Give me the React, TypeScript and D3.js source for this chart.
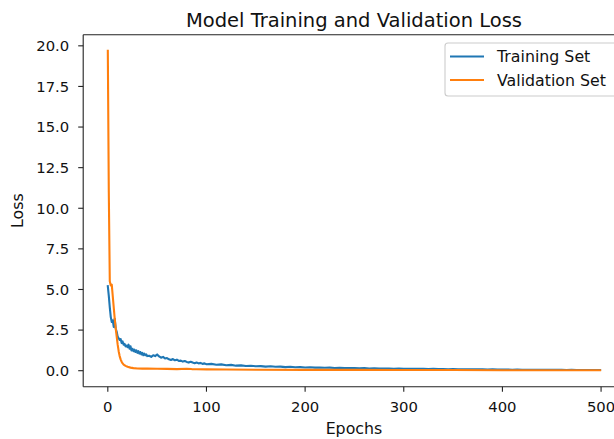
import React from "react";
import * as d3 from "d3";

const trainEpochs = [
  0, 1, 2, 3, 4, 5, 6, 7, 8, 9, 10, 11, 12, 13, 14, 15, 16, 17, 18, 19, 20,
  21, 22, 23, 24, 25, 26, 27, 28, 29, 30, 31, 32, 33, 34, 35, 36, 37, 38, 39, 40,
  42, 44, 46, 48, 50, 52, 54, 56, 58, 60, 62, 64, 66, 68, 70, 72, 74, 76, 78, 80,
  82, 84, 86, 88, 90, 92, 94, 96, 98, 100,
  105, 110, 115, 120, 125, 130, 135, 140, 145, 150, 155, 160, 165, 170, 175, 180, 185, 190, 195, 200,
  205, 210, 215, 220, 225, 230, 235, 240, 245, 250, 255, 260, 265, 270, 275, 280, 285, 290, 295, 300,
  305, 310, 315, 320, 325, 330, 335, 340, 345, 350, 355, 360, 365, 370, 375, 380, 385, 390, 395, 400,
  405, 410, 415, 420, 425, 430, 435, 440, 445, 450, 455, 460, 465, 470, 475, 480, 485, 490, 495, 499,
];
const trainLoss = [
  5.2, 4.6, 3.9, 3.3, 3.0, 3.1, 2.7, 3.2, 2.6, 2.4, 2.1, 2.0, 1.9, 1.95, 1.7, 1.8, 1.6, 1.65, 1.5, 1.55, 1.45,
  1.6, 1.35, 1.5, 1.25, 1.35, 1.2, 1.3, 1.15, 1.25, 1.1, 1.2, 1.05, 1.15, 1.0, 1.1, 0.95, 1.05, 0.95, 1.0, 0.9,
  0.92, 0.85, 0.95, 0.9, 1.0, 0.88, 0.8, 0.85, 0.75, 0.78, 0.7, 0.66, 0.72, 0.64, 0.68, 0.6, 0.62, 0.56, 0.6, 0.54,
  0.5, 0.55, 0.5, 0.46, 0.5, 0.45, 0.48, 0.42, 0.45, 0.4,
  0.42, 0.37, 0.39, 0.34, 0.36, 0.31, 0.33, 0.29, 0.3, 0.27, 0.28, 0.25, 0.27, 0.24, 0.25, 0.22, 0.24, 0.21, 0.22, 0.2,
  0.21, 0.19, 0.2, 0.18, 0.19, 0.17, 0.18, 0.16, 0.17, 0.16, 0.15, 0.16, 0.14, 0.15, 0.14, 0.13, 0.14, 0.12, 0.13, 0.12,
  0.12, 0.11, 0.12, 0.11, 0.1, 0.11, 0.1, 0.1, 0.09, 0.1, 0.09, 0.09, 0.08, 0.09, 0.08, 0.08, 0.07, 0.08, 0.07, 0.07,
  0.07, 0.06, 0.07, 0.06, 0.06, 0.06, 0.05, 0.06, 0.05, 0.05, 0.05, 0.05, 0.04, 0.05, 0.04, 0.04, 0.04, 0.04, 0.04, 0.04,
];

const valEpochs = [
  0, 1, 2, 3, 4, 5, 6, 7, 8, 9, 10, 11, 12, 13, 14, 15, 16, 18, 20, 23, 26, 30, 35, 40, 50, 60, 70, 80, 85, 90,
  100, 120, 150, 200, 250, 300, 350, 400, 450, 499,
];
const valLoss = [
  19.7, 11.0, 5.5, 5.25, 5.3, 4.6, 3.9, 3.2, 2.6, 2.1, 1.6, 1.2, 0.9, 0.7, 0.55, 0.45, 0.38, 0.3, 0.24, 0.19, 0.16, 0.14, 0.13, 0.14, 0.12, 0.11, 0.1, 0.12, 0.1, 0.09,
  0.08, 0.07, 0.06, 0.05, 0.05, 0.04, 0.04, 0.03, 0.03, 0.03,
];

const xTicks = [0, 100, 200, 300, 400, 500];
const yTicks = [0, 2.5, 5, 7.5, 10, 12.5, 15, 17.5, 20];

const titleText = "Model Training and Validation Loss";
const xLabel = "Epochs";
const yLabel = "Loss";
const seriesNames = ["Training Set", "Validation Set"];
const seriesColors = ["#1f77b4", "#ff7f0e"];

export default function App() {
  const W = 614;
  const H = 439;
  const left = 83.2;
  const right = 624.7;
  const top = 34.7;
  const bottom = 386.7;
  const font = "DejaVu Sans, sans-serif";
  const fs = 14.8;
  const lfs = 15.8;

  const x = d3.scaleLinear().domain([-24.95, 523.95]).range([left, right]);
  const y = d3.scaleLinear().domain([-0.985, 20.685]).range([bottom, top]);

  const line = d3
    .line<[number, number]>()
    .x((d) => x(d[0]))
    .y((d) => y(d[1]));

  const train: [number, number][] = trainEpochs.map((e, i) => [e, trainLoss[i]]);
  const val: [number, number][] = valEpochs.map((e, i) => [e, valLoss[i]]);

  const legX = 445;
  const legY = 43;
  const legW = 185;
  const legH = 53;

  return (
    <div style={{ position: "absolute", left: 0, top: 0, width: W, height: H, overflow: "hidden" }}>
      <svg width={W} height={H} style={{ display: "block", background: "#fff" }} fontFamily={font}>
        <rect x={0} y={0} width={W} height={H} fill="#fff" />
        <defs>
          <clipPath id="plotclip">
            <rect x={left} y={top} width={right - left} height={bottom - top} />
          </clipPath>
        </defs>
        <g clipPath="url(#plotclip)">
          <path d={line(train) || ""} fill="none" stroke={seriesColors[0]} strokeWidth={2.1} strokeLinejoin="round" strokeLinecap="square" />
          <path d={line(val) || ""} fill="none" stroke={seriesColors[1]} strokeWidth={2.1} strokeLinejoin="round" strokeLinecap="square" />
        </g>
        <g stroke="#222" strokeWidth={1.1} fill="none">
          <line x1={left} y1={top} x2={left} y2={bottom} />
          <line x1={left} y1={bottom} x2={right} y2={bottom} />
          <line x1={left} y1={top} x2={right} y2={top} />
        </g>
        {xTicks.map((t) => (
          <g key={"x" + t}>
            <line x1={x(t)} x2={x(t)} y1={bottom} y2={bottom + 5} stroke="#222" strokeWidth={1.1} />
            <text x={x(t)} y={bottom + 25} fontSize={fs} textAnchor="middle" fill="#111">
              {t}
            </text>
          </g>
        ))}
        {yTicks.map((t) => (
          <g key={"y" + t}>
            <line x1={left - 5} x2={left} y1={y(t)} y2={y(t)} stroke="#222" strokeWidth={1.1} />
            <text x={left - 14} y={y(t)} dy="0.36em" fontSize={fs} textAnchor="end" fill="#111">
              {t.toFixed(1)}
            </text>
          </g>
        ))}
        <text x={(left + right) / 2} y={27} fontSize={19.5} textAnchor="middle" fill="#111">
          {titleText}
        </text>
        <text x={(left + right) / 2} y={434} fontSize={lfs} textAnchor="middle" fill="#111">
          {xLabel}
        </text>
        <text
          transform={`translate(23,${(top + bottom) / 2}) rotate(-90)`}
          fontSize={lfs}
          textAnchor="middle"
          fill="#111"
        >
          {yLabel}
        </text>
        <rect x={legX} y={legY} width={legW} height={legH} rx={3} fill="#fff" fillOpacity={0.8} stroke="#cccccc" strokeWidth={1.1} />
        {seriesNames.map((n, i) => (
          <g key={n}>
            <line
              x1={legX + 5}
              x2={legX + 39}
              y1={legY + 13.5 + i * 23.5}
              y2={legY + 13.5 + i * 23.5}
              stroke={seriesColors[i]}
              strokeWidth={2.1}
            />
            <text x={legX + 52} y={legY + 13.5 + i * 23.5} dy="0.36em" fontSize={lfs} fill="#111">
              {n}
            </text>
          </g>
        ))}
      </svg>
    </div>
  );
}
